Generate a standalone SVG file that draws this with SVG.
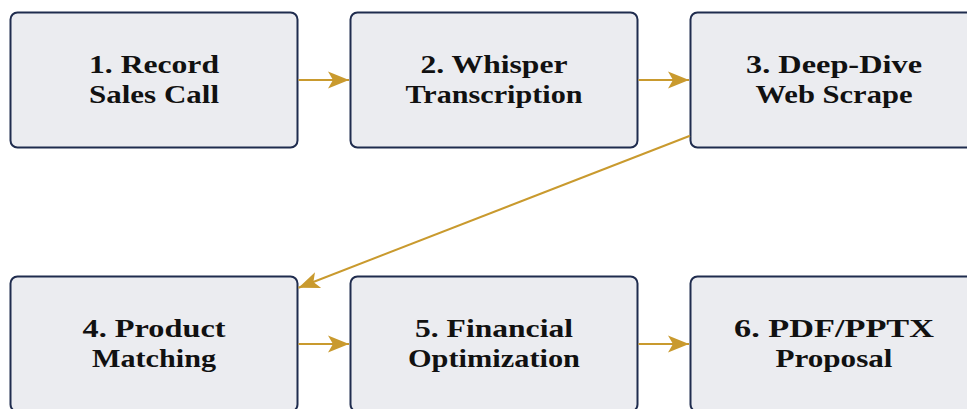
<svg xmlns="http://www.w3.org/2000/svg" width="967" height="409" viewBox="0 0 967 409">
  <style>
    .box { fill: #EBECF0; stroke: #1F2C4E; stroke-width: 2; }
    .lbl { font-family: "Liberation Serif", "Times New Roman", serif; font-weight: bold; font-size: 25px; fill: #111111; text-anchor: middle; }
    .flow { fill: none; stroke: #C99A2E; stroke-width: 2; marker-end: url(#head); }
  </style>
  <defs>
    <marker id="head" markerUnits="userSpaceOnUse" markerWidth="24" markerHeight="20" viewBox="-22 -10 24 20" refX="0" refY="0" orient="auto">
      <path d="M0,0 L-21,-8.5 L-16,0 L-21,8.5 Z" fill="#C99A2E"/>
    </marker>
  </defs>

  <!-- pipeline steps, top row -->
  <g id="step1">
    <rect class="box" x="10.5" y="12.5" width="287" height="135" rx="7"/>
    <text class="lbl" x="154" y="72.5" textLength="130" lengthAdjust="spacingAndGlyphs">1. Record</text>
    <text class="lbl" x="154" y="102.5" textLength="130" lengthAdjust="spacingAndGlyphs">Sales Call</text>
  </g>
  <g id="step2">
    <rect class="box" x="350.5" y="12.5" width="287" height="135" rx="7"/>
    <text class="lbl" x="494" y="72.5" textLength="147" lengthAdjust="spacingAndGlyphs">2. Whisper</text>
    <text class="lbl" x="494" y="102.5" textLength="177" lengthAdjust="spacingAndGlyphs">Transcription</text>
  </g>
  <g id="step3">
    <rect class="box" x="690.5" y="12.5" width="287" height="135" rx="7"/>
    <text class="lbl" x="834" y="72.5" textLength="176" lengthAdjust="spacingAndGlyphs">3. Deep-Dive</text>
    <text class="lbl" x="834" y="102.5" textLength="157" lengthAdjust="spacingAndGlyphs">Web Scrape</text>
  </g>

  <!-- pipeline steps, bottom row -->
  <g id="step4">
    <rect class="box" x="10.5" y="276.5" width="287" height="135" rx="7"/>
    <text class="lbl" x="154" y="336.5" textLength="143" lengthAdjust="spacingAndGlyphs">4. Product</text>
    <text class="lbl" x="154" y="366.5" textLength="124" lengthAdjust="spacingAndGlyphs">Matching</text>
  </g>
  <g id="step5">
    <rect class="box" x="350.5" y="276.5" width="287" height="135" rx="7"/>
    <text class="lbl" x="494" y="336.5" textLength="158" lengthAdjust="spacingAndGlyphs">5. Financial</text>
    <text class="lbl" x="494" y="366.5" textLength="172" lengthAdjust="spacingAndGlyphs">Optimization</text>
  </g>
  <g id="step6">
    <rect class="box" x="690.5" y="276.5" width="287" height="135" rx="7"/>
    <text class="lbl" x="834" y="336.5" textLength="200" lengthAdjust="spacingAndGlyphs">6. PDF/PPTX</text>
    <text class="lbl" x="834" y="366.5" textLength="117" lengthAdjust="spacingAndGlyphs">Proposal</text>
  </g>

  <!-- connectors -->
  <g id="connectors">
    <path class="flow" d="M298.5,80 L349,80"/>
    <path class="flow" d="M638.5,80 L689,80"/>
    <path class="flow" d="M690,135.7 L298.5,287.7"/>
    <path class="flow" d="M298.5,344 L349,344"/>
    <path class="flow" d="M638.5,344 L689,344"/>
  </g>
</svg>
